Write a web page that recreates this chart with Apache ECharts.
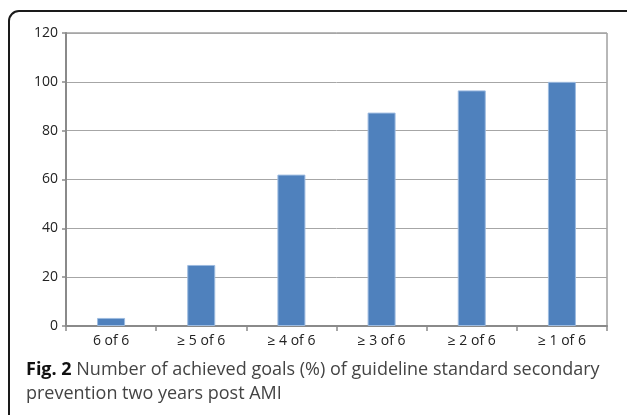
<!DOCTYPE html>
<html>
<head>
<meta charset="utf-8">
<script src="https://cdn.jsdelivr.net/npm/echarts@6/dist/echarts.min.js"></script>
<style>
  html, body { margin: 0; padding: 0; background: #fff; }
  #chart { width: 627px; height: 415px; }
</style>
</head>
<body>
<div id="chart"></div>
<script>
// goals achieved (categories) and share of patients in %
const categories = ['6 of 6', '≥ 5 of 6', '≥ 4 of 6', '≥ 3 of 6', '≥ 2 of 6', '≥ 1 of 6'];
const percentValues = [3.3, 25, 62, 87.4, 96.5, 100];
const yTicks = [0, 20, 40, 60, 80, 100, 120];

const chart = echarts.init(document.getElementById('chart'));

chart.setOption({
  animation: false,
  grid: {
    left: 66,
    right: 20,
    top: 33,
    bottom: 89,
    show: true,
    borderColor: '#707070',
    borderWidth: 1
  },
  xAxis: {
    type: 'category',
    data: categories,
    axisLine: { lineStyle: { color: '#8a8a8a', width: 2 } },
    axisTick: { show: true, length: 5, lineStyle: { color: '#8a8a8a', width: 1.5 } },
    axisLabel: {
      color: '#222',
      fontFamily: 'Open Sans',
      fontSize: 14,
      margin: 8
    }
  },
  yAxis: {
    type: 'value',
    min: yTicks[0],
    max: yTicks[yTicks.length - 1],
    interval: 20,
    axisLine: { show: true, lineStyle: { color: '#8a8a8a', width: 2 } },
    axisTick: { show: true, length: 4, lineStyle: { color: '#8a8a8a', width: 1.5 } },
    axisLabel: {
      color: '#222',
      fontFamily: 'Open Sans',
      fontSize: 14,
      margin: 8
    },
    splitLine: { lineStyle: { color: '#a6a6a6', width: 1 } }
  },
  series: [{
    type: 'bar',
    data: percentValues,
    barWidth: 28,
    itemStyle: {
      color: '#4f81bd',
      borderColor: '#9dbbe0',
      borderWidth: 1
    }
  }],
  graphic: [
    {
      type: 'rect',
      shape: { x: 9, y: 11, width: 640, height: 460, r: [10, 0, 0, 0] },
      style: { fill: 'none', stroke: '#1a1a1a', lineWidth: 2 },
      silent: true
    },
    {
      type: 'text',
      left: 26,
      top: 361,
      style: {
        text: '{b|Fig. 2} Number of achieved goals (%) of guideline standard secondary',
        rich: {
          b: { fontFamily: 'Open Sans', fontSize: 18, fontWeight: 'bold', fill: '#111' }
        },
        fontFamily: 'Open Sans',
        fontSize: 18,
        fill: '#444'
      }
    },
    {
      type: 'text',
      left: 26,
      top: 385,
      style: {
        text: 'prevention two years post AMI',
        fontFamily: 'Open Sans',
        fontSize: 18,
        fill: '#444'
      }
    }
  ]
});
</script>
</body>
</html>
